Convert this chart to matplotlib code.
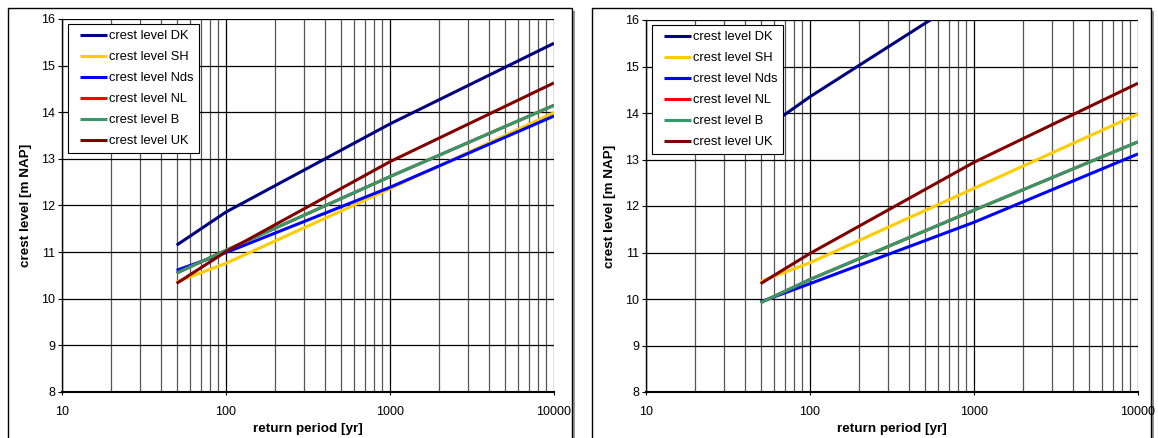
import matplotlib.pyplot as plt
from matplotlib.lines import Line2D
from matplotlib.legend_handler import HandlerLine2D
from matplotlib.patches import Rectangle
from matplotlib.ticker import FixedLocator, NullFormatter

plt.rcParams['font.family'] = ['Liberation Sans', 'DejaVu Sans']

periods = [50, 100, 1000, 10000]
series_names = ['crest level DK', 'crest level SH', 'crest level Nds',
                'crest level NL', 'crest level B', 'crest level UK']
colors = ['#000080', '#FFCC00', '#0000FF', '#FF0000', '#339966', '#800000']

# left chart
left_dk = [11.15, 11.86, 13.75, 15.48]
left_sh = [10.36, 10.76, 12.36, 13.99]
left_nds = [10.61, 10.99, 12.39, 13.92]
left_nl = [10.55, 11.04, 12.62, 14.15]
left_b = [10.55, 11.04, 12.62, 14.15]
left_uk = [10.33, 11.01, 12.94, 14.63]

# right chart
right_dk = [13.6, 14.35, 16.6, 18.8]
right_sh = [10.38, 10.78, 12.38, 13.98]
right_nds = [9.94, 10.33, 11.65, 13.12]
right_nl = [9.92, 10.42, 11.91, 13.38]
right_b = [9.92, 10.42, 11.91, 13.38]
right_uk = [10.33, 10.98, 12.94, 14.64]

left_data = [left_dk, left_sh, left_nds, left_nl, left_b, left_uk]
right_data = [right_dk, right_sh, right_nds, right_nl, right_b, right_uk]

W, H = 1158, 438
fig = plt.figure(figsize=(W / 100, H / 100), dpi=100)

# chart frames with shadow
for x0, w in [(8, 564), (592, 559)]:
    fig.patches.append(Rectangle(((x0 + 3) / W, -0.05), w / W, 1.05 - 11 / H,
                                 transform=fig.transFigure, facecolor='#999999',
                                 edgecolor='none', zorder=-3))
    fig.patches.append(Rectangle((x0 / W, -0.05), w / W, 1.05 - 8 / H,
                                 transform=fig.transFigure, facecolor='white',
                                 edgecolor='black', linewidth=1.0, zorder=-2))


def draw(ax, data):
    for vals, name, c in zip(data, series_names, colors):
        ax.plot(periods, vals, color=c, lw=2.2, label=name, solid_capstyle='butt')
    ax.set_xscale('log')
    ax.set_xlim(10, 10000)
    ax.set_ylim(8, 16)
    ax.set_yticks(range(8, 17))
    ax.set_xticks([10, 100, 1000, 10000])
    ax.set_xticklabels(['10', '100', '1000', '10000'])
    ax.xaxis.set_minor_locator(FixedLocator(
        [m * 10 ** e for e in range(1, 4) for m in range(2, 10)]))
    ax.xaxis.set_minor_formatter(NullFormatter())
    ax.grid(which='major', color='black', lw=0.9)
    ax.grid(which='minor', axis='x', color='#555555', lw=0.9)
    ax.set_axisbelow(True)
    ax.patch.set_alpha(0)
    ax.tick_params(axis='x', which='major', length=2.5, width=0.8, labelsize=9, pad=7.5)
    ax.tick_params(axis='x', which='minor', length=0)
    ax.tick_params(axis='y', length=3, width=0.8, labelsize=9, pad=2)
    for s in ['top', 'right']:
        ax.spines[s].set_visible(False)
    ax.spines['left'].set_linewidth(1.0)
    ax.spines['bottom'].set_linewidth(1.5)
    ax.set_xlabel('return period [yr]', fontsize=9.7, fontweight='bold', labelpad=3.5)
    ax.set_ylabel('crest level [m NAP]', fontsize=9.7, fontweight='bold', labelpad=6.5)
    leg = ax.legend(loc='upper left', bbox_to_anchor=(0.012, 0.986), borderaxespad=0,
                    fontsize=9.3, frameon=True, fancybox=False, handlelength=2.55,
                    handletextpad=0.15, labelspacing=0.7, borderpad=0.45,
                    handler_map={Line2D: HandlerLine2D(xpad=0.5)})
    leg.get_frame().set_edgecolor('black')
    leg.get_frame().set_linewidth(0.8)
    leg.get_frame().set_alpha(1)
    for line in leg.get_lines():
        line.set_linewidth(2.2)


ax1 = fig.add_axes([62 / W, 1 - 392 / H, (554 - 62) / W, (392 - 19) / H])
draw(ax1, left_data)
ax2 = fig.add_axes([646 / W, 1 - 392 / H, (1138 - 646) / W, (392 - 20) / H])
draw(ax2, right_data)

fig.savefig('out.png', dpi=100)
